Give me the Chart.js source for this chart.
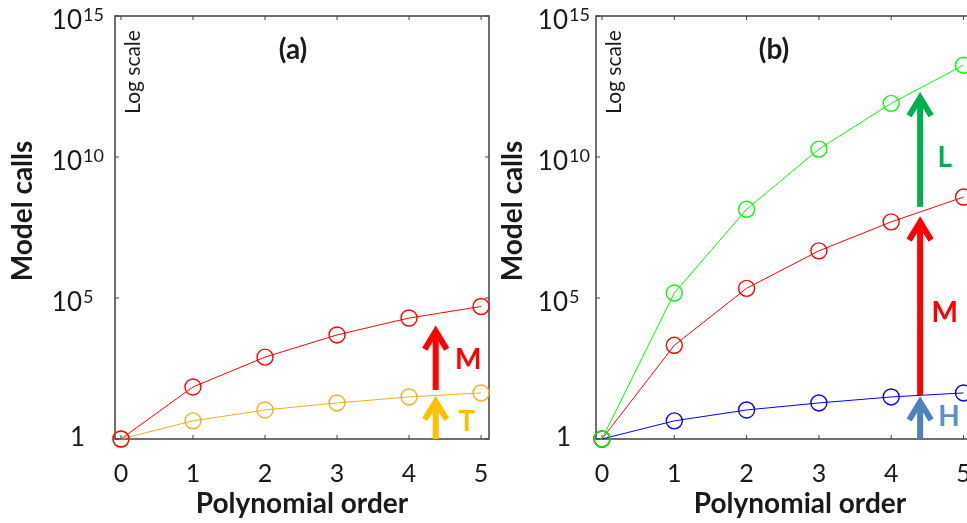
<!DOCTYPE html>
<html>
<head>
<meta charset="utf-8">
<script src="https://cdn.jsdelivr.net/npm/chart.js@4"></script>
<style>
html, body { margin: 0; padding: 0; background: #fff; overflow: hidden; }
body { width: 967px; height: 523px; position: relative; }
.panel { position: absolute; top: 0; }
</style>
</head>
<body>
<div class="panel" style="left:0"><canvas id="chartA" width="490" height="523"></canvas></div>
<div class="panel" style="left:481px"><canvas id="chartB" width="524" height="523"></canvas></div>
<script>
'use strict';

const orders = [0, 1, 2, 3, 4, 5];
const decades = [1, 1e5, 1e10, 1e15];

// panel (a)
const aModel = [1, 70, 800, 4900, 19500, 50000];
const aTerms = [1, 4.4, 10.7, 19, 31, 43];
const aArrowBase = [1, 55];
const aArrowTip = [32, 1e4];
const aArrowText = ['T', 'M'];

// panel (b)
const bLarge = [1, 1.5e5, 1.4e8, 1.9e10, 8e11, 1.8e13];
const bModel = [1, 2100, 2.2e5, 4.7e6, 5e7, 3.8e8];
const bHigh = [1, 4.4, 10.7, 19, 31, 43];
const bArrowBase = [1, 36, 1.7e8];
const bArrowTip = [31, 7.4e7, 1.9e12];
const bArrowText = ['H', 'M', 'L'];

const FONT = 'Lato, "Open Sans", sans-serif';
const INK = '#1a1a1a';

/**
 * 太い矢印を描く (先端は tip の位置)
 */
function
drawArrow(ctx, px, base, tip, color)
{
    ctx.strokeStyle = color;
    ctx.lineWidth = 6;
    ctx.lineCap = 'butt';
    ctx.lineJoin = 'miter';
    ctx.beginPath();
    ctx.moveTo(px, base);
    ctx.lineTo(px, tip + 6);
    ctx.stroke();
    ctx.beginPath();
    ctx.moveTo(px - 11, tip + 23);
    ctx.lineTo(px, tip + 5);
    ctx.lineTo(px + 11, tip + 23);
    ctx.stroke();
}

const decor = {
    id: 'decor',
    beforeDatasetsDraw(chart, args, opts) {
        const { ctx, chartArea: area, scales: { x, y } } = chart;
        ctx.save();
        // frame and inward ticks
        ctx.strokeStyle = '#404040';
        ctx.lineWidth = 1.5;
        ctx.strokeRect(area.left, area.top, area.right - area.left, area.bottom - area.top);
        ctx.lineWidth = 1;
        ctx.beginPath();
        orders.forEach(v => {
            const px = x.getPixelForValue(v);
            ctx.moveTo(px, area.bottom); ctx.lineTo(px, area.bottom - 4);
            ctx.moveTo(px, area.top); ctx.lineTo(px, area.top + 4);
        });
        decades.forEach(v => {
            const py = y.getPixelForValue(v);
            ctx.moveTo(area.left, py); ctx.lineTo(area.left + 4, py);
            ctx.moveTo(area.right, py); ctx.lineTo(area.right - 4, py);
        });
        ctx.stroke();

        // y tick labels with exponents
        ctx.fillStyle = INK;
        ctx.textBaseline = 'middle';
        const xr = area.left - opts.tickGap;
        decades.forEach(v => {
            const py = y.getPixelForValue(v);
            const exp = Math.round(Math.log10(v));
            ctx.font = `26px ${FONT}`;
            ctx.textAlign = 'right';
            if (exp === 0) {
                ctx.fillText('1', xr + 3, py - 1);
                return;
            }
            ctx.fillText('10', xr, py + 5);
            ctx.font = `18px ${FONT}`;
            ctx.textAlign = 'left';
            ctx.fillText(String(exp), xr + 1, py - 1);
        });

        // y title
        ctx.save();
        ctx.translate(opts.titleX, 211);
        ctx.rotate(-Math.PI / 2);
        ctx.font = `bold 28px ${FONT}`;
        ctx.textAlign = 'center';
        ctx.fillText('Model calls', 0, 0);
        ctx.restore();

        // panel letter
        ctx.font = `bold 28px ${FONT}`;
        ctx.textAlign = 'center';
        ctx.fillText(opts.letter, area.left + 178, 50);

        // log scale note
        ctx.save();
        ctx.translate(area.left + 18, 72);
        ctx.rotate(-Math.PI / 2);
        ctx.font = `21px ${FONT}`;
        ctx.fillText('Log scale', 0, 0);
        ctx.restore();
        ctx.restore();
    },
    afterDatasetsDraw(chart, args, opts) {
        const { ctx, scales: { x, y } } = chart;
        ctx.save();
        const px = x.getPixelForValue(opts.arrowX);
        opts.base.forEach((b, i) => {
            drawArrow(ctx, px, y.getPixelForValue(b), y.getPixelForValue(opts.tip[i]), opts.colors[i]);
        });
        ctx.font = `bold 28px ${FONT}`;
        ctx.textAlign = 'center';
        ctx.textBaseline = 'middle';
        opts.text.forEach((t, i) => {
            const [lx, ly] = opts.labelAt[i];
            ctx.fillStyle = opts.textColors[i];
            ctx.fillText(t, x.getPixelForValue(lx), y.getPixelForValue(ly));
        });
        ctx.restore();
    },
};

function
series(data, color)
{
    return {
        data: data.map((v, i) => ({ x: orders[i], y: v })),
        borderColor: color,
        borderWidth: 1,
        pointRadius: 8,
        pointBorderWidth: 1.4,
        pointBackgroundColor: 'rgba(0,0,0,0)',
        pointBorderColor: color,
        showLine: true,
        tension: 0,
        clip: false,
    };
}

function
drawPanel(canvas, datasets, xMax, decorOpts)
{
    return new Chart(canvas, {
        type: 'scatter',
        data: { datasets },
        plugins: [ decor ],
        options: {
            responsive: false,
            animation: false,
            events: [],
            layout: {
                autoPadding: false,
                padding: { top: 16, right: 1, left: 0, bottom: 0 },
            },
            plugins: {
                legend: { display: false },
                tooltip: { enabled: false },
                decor: decorOpts,
            },
            scales: {
                x: {
                    type: 'linear',
                    min: -0.083,
                    max: xMax,
                    afterBuildTicks: s => { s.ticks = orders.map(v => ({ value: v })); },
                    afterFit: s => {
                        s.height = 84;
                        s.paddingLeft = 0;
                        s.paddingRight = 0;
                    },
                    grid: { display: false, drawTicks: false },
                    border: { display: false },
                    ticks: {
                        font: { family: FONT, size: 25 },
                        color: INK,
                        padding: 20,
                        maxRotation: 0,
                        autoSkip: false,
                        callback: v => String(v),
                    },
                    title: {
                        display: true,
                        text: 'Polynomial order',
                        color: INK,
                        font: { family: FONT, size: 28, weight: 'bold' },
                        padding: { top: 0, bottom: 2 },
                    },
                },
                y: {
                    type: 'logarithmic',
                    min: 1,
                    max: 1e15,
                    afterBuildTicks: s => { s.ticks = decades.map(v => ({ value: v })); },
                    afterFit: s => {
                        s.width = 115;
                        s.paddingTop = 0;
                        s.paddingBottom = 0;
                    },
                    grid: { display: false },
                    border: { display: false },
                    ticks: { display: false },
                },
            },
        },
    });
}

drawPanel(chartA, [
    series(aModel, '#ff0000'),
    series(aTerms, '#edb120'),
], 5.11, {
    letter: '(a)',
    tickGap: 33,
    titleX: 23,
    arrowX: 4.37,
    base: aArrowBase,
    tip: aArrowTip,
    colors: [ '#ffc000', '#ff0000' ],
    text: aArrowText,
    textColors: [ '#ffc000', '#ff0000' ],
    labelAt: [ [4.8, 4], [4.82, 630] ],
});

drawPanel(chartB, [
    series(bLarge, '#00ff00'),
    series(bModel, '#ff0000'),
    series(bHigh, '#0000ff'),
], 5.56, {
    letter: '(b)',
    tickGap: 28,
    titleX: 32,
    arrowX: 4.4,
    base: bArrowBase,
    tip: bArrowTip,
    colors: [ '#4f81bd', '#ff0000', '#00b050' ],
    text: bArrowText,
    textColors: [ '#5b8fd0', '#ff0000', '#00b050' ],
    labelAt: [ [4.8, 6], [4.74, 3e4], [4.74, 9e9] ],
});
/* ex: se et ts=4 : */
</script>
</body>
</html>
